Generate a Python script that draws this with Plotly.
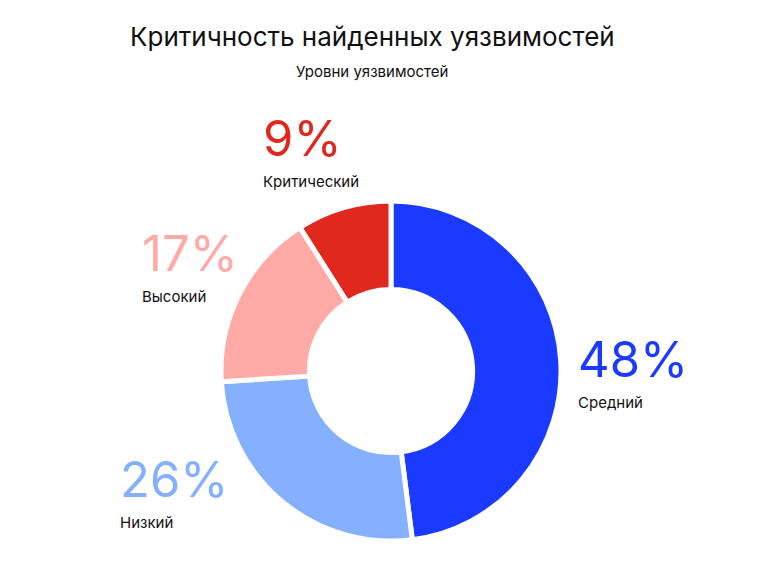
import plotly.graph_objects as go

categories = ["Средний", "Низкий", "Высокий", "Критический"]
values = [48, 26, 17, 9]
colors = ["#1a3bff", "#85b0ff", "#ffaaa6", "#e0281e"]
title = "Критичность найденных уязвимостей"
subtitle = "Уровни уязвимостей"

W, H = 780, 576
FONT = "Inter"
OFF = 8  # page body margin offset in the screenshot

def px(x):
    return (x - OFF) / W

def py(y):
    return 1 - (y - OFF) / H

# pie geometry in pixels (screen coordinates)
cx, cy, r = 391, 371, 170

fig = go.Figure(go.Pie(
    labels=categories,
    values=values,
    marker=dict(colors=colors, line=dict(color="white", width=5)),
    hole=0.48,
    sort=False,
    direction="clockwise",
    rotation=0,
    textinfo="none",
    hoverinfo="label+percent",
    showlegend=False,
    domain=dict(x=[px(cx - r), px(cx + r)], y=[py(cy + r), py(cy - r)]),
))

# label anchor positions (pixels: left x, centre y of percentage, centre y of name)
label_pos = {
    "Средний": (576, 359, 402),
    "Низкий": (118, 479, 522),
    "Высокий": (140, 254, 296),
    "Критический": (261, 138, 182),
}

total = sum(values)
annotations = []
for cat, val, col in zip(categories, values, colors):
    x, yp, yn = label_pos[cat]
    annotations.append(dict(
        x=px(x), y=py(yp), xref="paper", yref="paper",
        xanchor="left", yanchor="middle", showarrow=False,
        text=f"{round(val / total * 100)}%",
        font=dict(family=FONT, size=49, color=col, weight=400),
    ))
    annotations.append(dict(
        x=px(x), y=py(yn), xref="paper", yref="paper",
        xanchor="left", yanchor="middle", showarrow=False,
        text=cat,
        font=dict(family=FONT, size=15, color="#111111"),
    ))

annotations.append(dict(
    x=px(372), y=py(36), xref="paper", yref="paper",
    xanchor="center", yanchor="middle", showarrow=False,
    text=title, font=dict(family=FONT, size=26, color="#111111", weight=400),
))
annotations.append(dict(
    x=px(372), y=py(71), xref="paper", yref="paper",
    xanchor="center", yanchor="middle", showarrow=False,
    text=subtitle, font=dict(family=FONT, size=15, color="#111111"),
))

fig.update_layout(
    width=W, height=H,
    margin=dict(l=0, r=0, t=0, b=0),
    paper_bgcolor="white", plot_bgcolor="white",
    annotations=annotations,
)

fig.write_html("out.html")
